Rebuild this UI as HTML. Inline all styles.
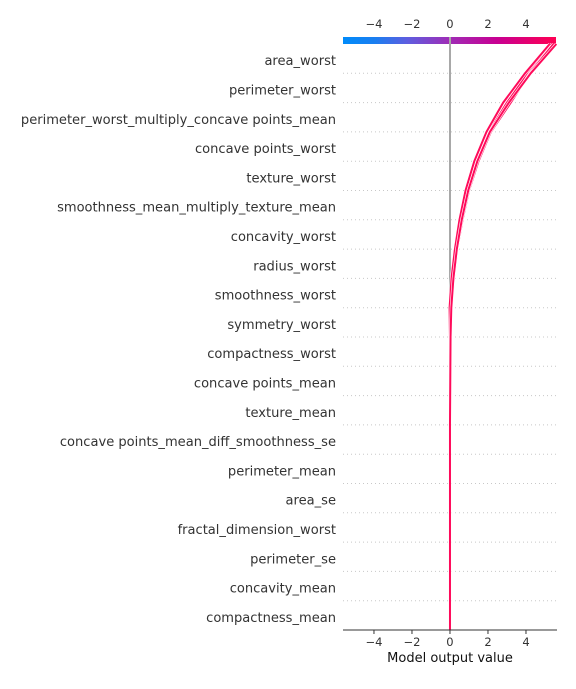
<!DOCTYPE html>
<html><head><meta charset="utf-8">
<style>
body{margin:0;background:#fff;}
svg text{font-family:"DejaVu Sans","Liberation Sans",sans-serif;}
</style></head>
<body>
<svg id="chart" width="576" height="684" xmlns="http://www.w3.org/2000/svg">
<defs>
<linearGradient id="cg" x1="0" x2="1" y1="0" y2="0">
<stop offset="0" stop-color="#008bfa"/>
<stop offset="0.15" stop-color="#1a7ef0"/>
<stop offset="0.3" stop-color="#5d5ee0"/>
<stop offset="0.5" stop-color="#9f2cb6"/>
<stop offset="0.72" stop-color="#c70092"/>
<stop offset="1" stop-color="#ff0052"/>
</linearGradient>
<clipPath id="pc"><rect x="343" y="36" width="214" height="595"/></clipPath>
</defs>
<g id="grid"></g>
<g id="labels"></g>
<rect x="343" y="37" width="213" height="7" fill="url(#cg)"/>
<line x1="450" y1="37" x2="450" y2="630" stroke="#a8a8a8" stroke-width="2"/>
<g id="lines" clip-path="url(#pc)"></g>
<line x1="343" y1="630" x2="557" y2="630" stroke="#333" stroke-width="1"/>
<g id="ticks"></g>
<text x="450" y="662" font-size="13" text-anchor="middle" fill="#111">Model output value</text>
</svg>
<script>
const features = ["area_worst","perimeter_worst","perimeter_worst_multiply_concave points_mean","concave points_worst","texture_worst","smoothness_mean_multiply_texture_mean","concavity_worst","radius_worst","smoothness_worst","symmetry_worst","compactness_worst","concave points_mean","texture_mean","concave points_mean_diff_smoothness_se","perimeter_mean","area_se","fractal_dimension_worst","perimeter_se","concavity_mean","compactness_mean"];
const tickValues = [-4,-2,0,2,4];
const tickLabels = ["\u22124","\u22122","0","2","4"];
// cumulative output at each boundary from bottom (k=0) to top (k=20)
const seriesA = [0,0,0,0,0,0,0,0,0.01,0.02,0.03,0.06,0.17,0.34,0.6,0.93,1.4,2.05,3.0,4.1,5.35];
const seriesB = [0,0,0,0,0,0,0,0,0.01,0.02,0.04,0.08,0.2,0.38,0.66,1.0,1.5,2.15,3.2,4.2,5.45];
const seriesC = [0,0,0,0,0,0,0,0,0.01,0.01,0.0,-0.02,0.08,0.26,0.5,0.82,1.28,1.92,2.8,3.95,5.25];
const seriesD = [0,0,0,0,0,0,0,0,0.01,0.02,0.03,0.07,0.18,0.36,0.62,0.96,1.44,2.1,3.1,4.25,5.6];
const allSeries = [seriesA,seriesB,seriesC,seriesD];

const NS="http://www.w3.org/2000/svg";
const xMin=-5.63, xMax=5.58, px0=343, px1=556;
const x = v => px0 + (v - xMin) / (xMax - xMin) * (px1 - px0);
const yTop=44, yBot=630, n=features.length, step=(yBot-yTop)/n;
const yB = k => yBot - k*step;
function mk(tag, attrs, parent){const e=document.createElementNS(NS,tag);for(const k in attrs)e.setAttribute(k,attrs[k]);parent.appendChild(e);return e;}

const grid=document.getElementById('grid');
for(let k=1;k<n;k++){
  const l=mk('line',{x1:343,x2:557,y1:yB(k),y2:yB(k),stroke:'#c8c8c8','stroke-width':1,'stroke-dasharray':'1 3'},grid);
  
  
}
const lab=document.getElementById('labels');
features.forEach((f,i)=>{
  const t=mk('text',{x:336,y:yTop+step*(i+0.5)+6.5,'font-size':13.05,'text-anchor':'end',fill:'#333'},lab);
  t.textContent=f;
  
  
});
const tk=document.getElementById('ticks');
tickValues.forEach((v,i)=>{
  const a=mk('line',{x1:x(v),x2:x(v),y1:630,y2:634,stroke:'#333'},tk);
  
  
  const b=mk('text',{x:x(v),y:646,'font-size':11.5,'text-anchor':'middle',fill:'#333'},tk);
  b.textContent=tickLabels[i];
  
  
  const d=mk('text',{x:x(v),y:28,'font-size':11.5,'text-anchor':'middle',fill:'#333'},tk);
  d.textContent=tickLabels[i];
  
  
});
const lg=document.getElementById('lines');
allSeries.forEach((s,j)=>{
  const pts=s.map((v,k)=>x(v).toFixed(2)+','+yB(k).toFixed(2)).join(' ');
  mk('polyline',{points:pts,fill:'none',stroke:'#fff','stroke-width':3.2},lg);
  const p=mk('polyline',{points:pts,fill:'none',stroke:'#ff0a5a','stroke-width':2},lg);
  
  
});
</script>
</body></html>
